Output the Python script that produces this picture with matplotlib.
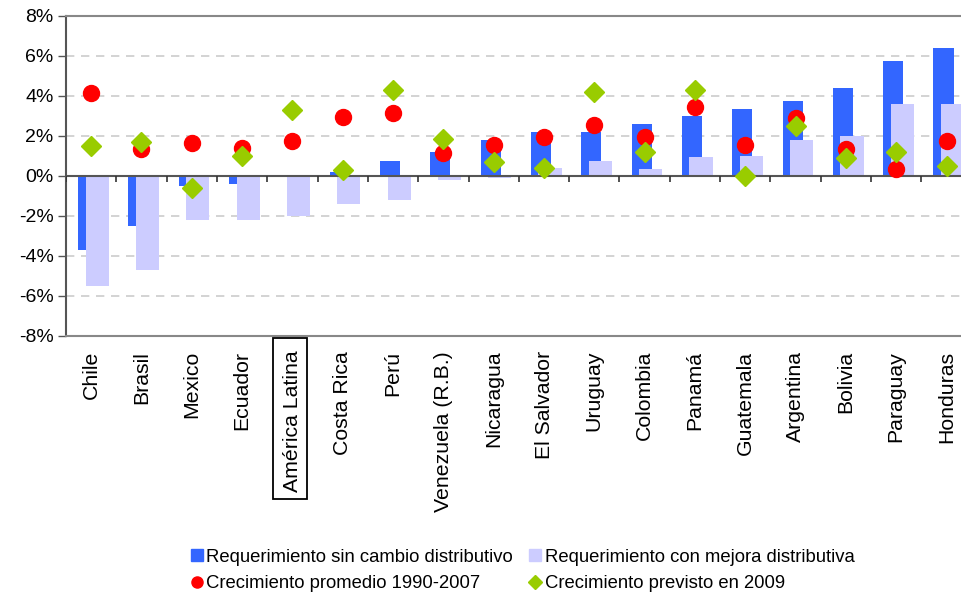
import matplotlib
matplotlib.use("Agg")
import matplotlib.pyplot as plt
from matplotlib.patches import Rectangle
from matplotlib.lines import Line2D
from matplotlib.ticker import FuncFormatter
import numpy as np

plt.rcParams['font.family'] = ['Liberation Sans', 'DejaVu Sans']

countries = ["Chile", "Brasil", "Mexico", "Ecuador", "América Latina", "Costa Rica",
             "Perú", "Venezuela (R.B.)", "Nicaragua", "El Salvador", "Uruguay",
             "Colombia", "Panamá", "Guatemala", "Argentina", "Bolivia", "Paraguay",
             "Honduras"]
req_sin_cambio = [-3.7, -2.5, -0.5, -0.4, 0.0, 0.18, 0.73, 1.18, 1.78, 2.18, 2.18,
                  2.58, 2.98, 3.33, 3.73, 4.38, 5.73, 6.38]
req_con_mejora = [-5.5, -4.7, -2.2, -2.2, -2.0, -1.4, -1.2, -0.2, -0.1, 0.38, 0.73,
                  0.33, 0.93, 0.98, 1.78, 1.98, 3.58, 3.58]
crec_promedio = [4.15, 1.33, 1.65, 1.37, 1.75, 2.95, 3.13, 1.13, 1.55, 1.95, 2.53,
                 1.95, 3.45, 1.55, 2.87, 1.35, 0.33, 1.75]
crec_2009 = [1.5, 1.7, -0.62, 1.0, 3.3, 0.3, 4.3, 1.82, 0.7, 0.4, 4.2, 1.2, 4.3,
             0.0, 2.5, 0.9, 1.2, 0.5]
yticks = [-8, -6, -4, -2, 0, 2, 4, 6, 8]

c_blue = "#3366FF"
c_lav = "#CCCCFF"
c_red = "#FF0000"
c_green = "#99CC00"

W, H = 962, 599
fig = plt.figure(figsize=(W / 100, H / 100), dpi=100)
left, right, top, bottom = 66, 971.7, 15.7, 335.5
ax = fig.add_axes([left / W, 1 - bottom / H, (right - left) / W, (bottom - top) / H])

x = np.arange(len(countries))
ax.bar(x - 0.06, req_sin_cambio, width=0.40, color=c_blue, zorder=2)
ax.bar(x + 0.12, req_con_mejora, width=0.46, color=c_lav, zorder=2.5)
ax.axhline(0, color="#555555", lw=1.5, zorder=3)
ax.vlines(np.arange(len(countries)) - 0.5, 0, -0.3, color="#333333", lw=1.2, zorder=3)
ax.plot(x, crec_promedio, linestyle="none", marker="o", ms=11.5, color=c_red,
        mec=c_red, zorder=4)
ax.plot(x, crec_2009, linestyle="none", marker="D", ms=10.3, color=c_green,
        mec=c_green, zorder=5)

ax.set_xlim(-0.5, len(countries) - 0.5)
ax.set_ylim(-8, 8)
ax.set_yticks(yticks)
ax.yaxis.set_major_formatter(FuncFormatter(lambda v, p: f"{int(v)}%"))
ax.tick_params(axis='y', direction='out', length=6, width=1, color="#555555",
               labelsize=14, pad=3)
ax.set_xticks(x)
ax.set_xticklabels(countries, rotation=90, fontsize=15.3)
ax.tick_params(axis='x', length=0, pad=11)
for yv in yticks:
    if yv not in (0, 8, -8):
        ax.axhline(yv, color="#CCCCCC", lw=1.2, ls=(0, (5, 4)), zorder=1)
for s in ['top', 'bottom', 'right']:
    ax.spines[s].set_color("#888888")
    ax.spines[s].set_linewidth(1.5)
ax.spines['left'].set_color("#555555")
ax.spines['left'].set_linewidth(1.5)

# box around "América Latina"
bx0, bx1, by0, by1 = 272.7, 307.0, 338.0, 499.0
fig.patches.append(Rectangle((bx0 / W, 1 - by1 / H), (bx1 - bx0) / W, (by1 - by0) / H,
                             transform=fig.transFigure, fill=False, ec="black", lw=1.3))

handles = [
    Line2D([], [], ls="none", marker="s", ms=8, color=c_blue),
    Line2D([], [], ls="none", marker="s", ms=8, color=c_lav),
    Line2D([], [], ls="none", marker="o", ms=8, color=c_red),
    Line2D([], [], ls="none", marker="D", ms=7, color=c_green),
]
labels = ["Requerimiento sin cambio distributivo", "Requerimiento con mejora distributiva",
          "Crecimiento promedio 1990-2007", "Crecimiento previsto en 2009"]
order = [0, 2, 1, 3]
fig.legend([handles[i] for i in order], [labels[i] for i in order], ncol=2,
           loc="center", bbox_to_anchor=(523 / W, 1 - 570.5 / H), frameon=False,
           fontsize=13.3, handlelength=0.6, handletextpad=0.2, columnspacing=0.9,
           labelspacing=0.5, borderaxespad=0)

fig.savefig("out.png", dpi=100)
